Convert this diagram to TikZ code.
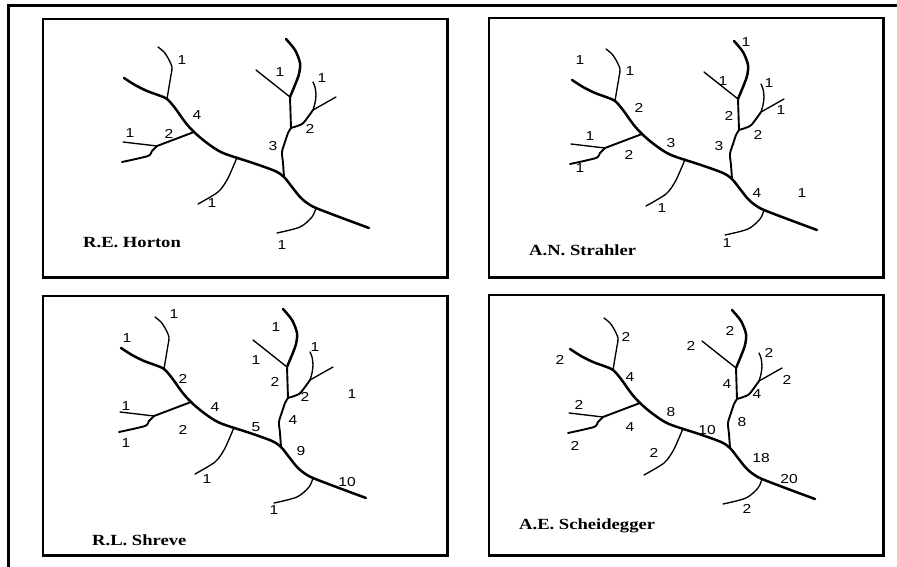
\documentclass[tikz,border=0pt]{standalone}
\usepackage{fontspec}
\usepackage{graphicx}
\setmainfont{Liberation Serif}
\newfontfamily\numfont{Liberation Sans}

% horizontally widened text, as in the printed figure
\newcommand\widetext[1]{\scalebox{1.2}[1]{#1}}

\tikzset{
  panelbox/.style={draw=black, line width=1.5pt},
  boxshade/.style={draw=black, line width=3pt},
  frameline/.style={draw=black, line width=3pt},
  trunk/.style={line width=2.5pt, line cap=round, line join=round},
  midch/.style={line width=1.9pt, line cap=round, line join=round},
  thinch/.style={line width=1.35pt, line cap=round, line join=round},
  num/.style={font=\numfont\fontsize{13}{13}\selectfont, inner sep=0pt},
  author/.style={font=\bfseries\fontsize{15.5}{15.5}\selectfont, inner sep=0pt, anchor=west},
}

% the drainage network, in the coordinates of the first panel
\newcommand\rivertree{%
  \coordinate (J1) at (316,208);
  \coordinate (J2) at (284,177);
  \coordinate (J4) at (194,132);
  \coordinate (J5) at (167,99);
  \coordinate (J6) at (157,146);
  \coordinate (J7) at (291,128);
  \coordinate (J8) at (290,97);
  \coordinate (J9) at (313,110);
  \coordinate (T3) at (237,157.5);
  % main stream
  \draw[trunk] plot[smooth, tension=0.5] coordinates {(124,78) (135,85) (147,91) (158,95) (J5) (175,108) (185,122) (J4) (207,143) (223,153) (253,163) (275,171) (J2) (292,187) (300,197) (307,203) (J1) (342,218) (369,228)};
  % upper left tributaries
  \draw[thinch] plot[smooth, tension=0.5] coordinates {(J5) (169,87) (171,75) (172,67) (168,58) (164,52) (158,47)};
  \draw[midch] (J4) -- (J6);
  \draw[thinch] (J6) -- (123,142);
  \draw[midch] plot[smooth, tension=0.4] coordinates {(J6) (152,151) (148,156) (122,162)};
  % lower tributaries
  \draw[thinch] plot[smooth, tension=0.5] coordinates {(T3) (233,167) (227,180) (218,192) (198,204)};
  \draw[thinch] plot[smooth, tension=0.5] coordinates {(J1) (312,217) (300,227) (277,233)};
  % right-hand tributary system
  \draw[midch] plot[smooth, tension=0.5] coordinates {(J2) (283,163) (282,152) (285,142) (288,133) (J7)};
  \draw[midch] (J7) -- (J8);
  \draw[trunk] plot[smooth, tension=0.5] coordinates {(J8) (295,85) (299,74) (300,63) (295,50) (286,39)};
  \draw[thinch] (J8) -- (256,70);
  \draw[midch] plot[smooth, tension=0.5] coordinates {(J7) (302,124) (308,117) (J9)};
  \draw[thinch] plot[smooth, tension=0.5] coordinates {(J9) (315,103) (316,95) (315,87) (313,82)};
  \draw[thinch] (J9) -- (336,97);
}

\begin{document}
\begin{tikzpicture}[x=1pt, y=-1pt]
  \useasboundingbox (0,0) rectangle (897,567);
  \fill[white] (0,0) rectangle (897,567);

  % outer frame (top and left)
  \draw[frameline] (7,6) -- (897,6);
  \draw[frameline] (8,4.5) -- (8,567);

  % panel boxes
  \foreach \xa/\ya/\xb/\yb in {43/19/447/277, 489/18/883/277, 43/296/447/555, 489/295/883/555}{
    \draw[panelbox] (\xa,\yb) -- (\xa,\ya) -- (\xb,\ya);
    \draw[boxshade] (\xb,\ya-0.7) -- (\xb,\yb) -- (\xa-0.7,\yb);
  }

  % R.E. Horton
  \begin{scope}
    \rivertree
    \foreach \px/\py/\t in {182/60/1, 197/115/4, 130/133/1, 169/134/2, 212/203/1,
                            280/72/1, 322/78/1, 310/129/2, 273/146/3, 282/245/1}
      \node[num] (h\px\py) at (\px,\py) {\widetext{\t}};
  \end{scope}
  \node[author] (horton) at (83,243) {\widetext{R.E. Horton}};

  % A.N. Strahler
  \begin{scope}[shift={(448,2)}]
    \rivertree
    \foreach \px/\py/\t in {132/58/1, 182/69/1, 191/106/2, 142/134/1, 223/141/3,
                            181/153/2, 132/166/1, 214/206/1, 298/40/1, 275/79/1,
                            321/81/1, 333/108/1, 281/114/2, 310/133/2, 271/144/3,
                            309/191/4, 354/191/1, 279/241/1}
      \node[num] (s\px\py) at (\px,\py) {\widetext{\t}};
  \end{scope}
  \node[author] (strahler) at (529,250) {\widetext{A.N. Strahler}};

  % R.L. Shreve
  \begin{scope}[shift={(-3,270)}]
    \rivertree
    \foreach \px/\py/\t in {177/44/1, 130/68/1, 186/109/2, 129/136/1, 218/137/4,
                            186/160/2, 129/173/1, 259/157/5, 210/209/1, 279/57/1,
                            318/77/1, 259/90/1, 278/112/2, 308/127/2, 355/124/1,
                            296/150/4, 304/181/9, 350/212/10, 277/240/1}
      \node[num] (r\px\py) at (\px,\py) {\widetext{\t}};
  \end{scope}
  \node[author] (shreve) at (92,540) {\widetext{R.L. Shreve}};

  % A.E. Scheidegger
  \begin{scope}[shift={(446,271)}]
    \rivertree
    \foreach \px/\py/\t in {180/66/2, 114/89/2, 184/106/4, 133/134/2, 225/141/8,
                            184/156/4, 129/175/2, 261/159/10, 208/182/2, 284/60/2,
                            245/75/2, 323/82/2, 341/109/2, 281/113/4, 311/123/4,
                            296/151/8, 315/187/18, 343/208/20, 301/238/2}
      \node[num] (e\px\py) at (\px,\py) {\widetext{\t}};
  \end{scope}
  \node[author] (scheidegger) at (519,526) {\widetext{A.E. Scheidegger}};
\end{tikzpicture}
\end{document}
